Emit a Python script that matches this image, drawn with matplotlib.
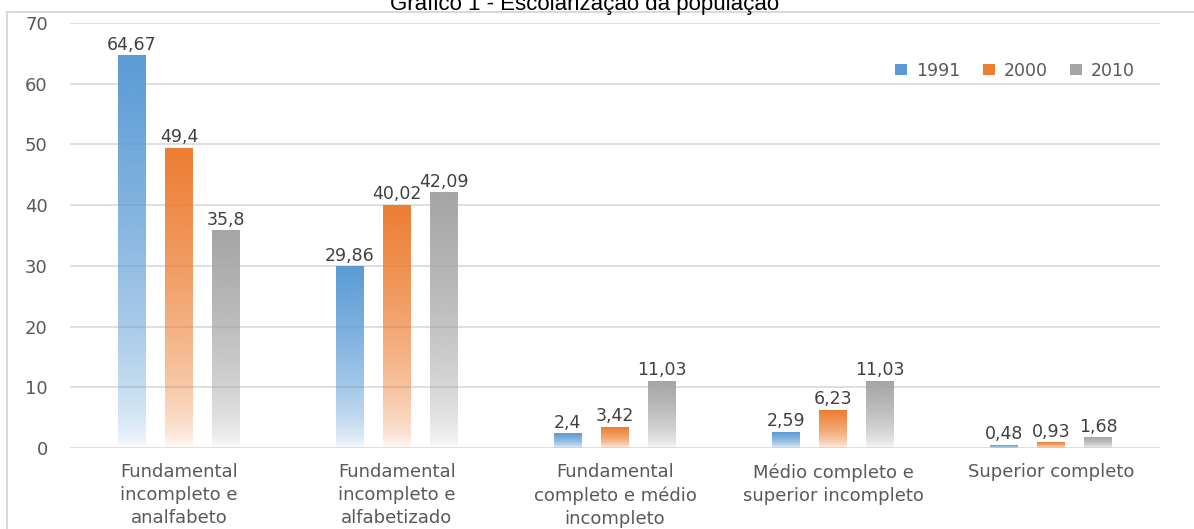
import numpy as np
import matplotlib
matplotlib.use("Agg")
import matplotlib.pyplot as plt
from matplotlib.colors import to_rgb
from matplotlib.patches import Patch
from matplotlib.lines import Line2D

categories = [
    "Fundamental\nincompleto e\nanalfabeto",
    "Fundamental\nincompleto e\nalfabetizado",
    "Fundamental\ncompleto e médio\nincompleto",
    "Médio completo e\nsuperior incompleto",
    "Superior completo",
]
years = ["1991", "2000", "2010"]
v1991 = [64.67, 29.86, 2.4, 2.59, 0.48]
v2000 = [49.4, 40.02, 3.42, 6.23, 0.93]
v2010 = [35.8, 42.09, 11.03, 11.03, 1.68]
labels1991 = ["64,67", "29,86", "2,4", "2,59", "0,48"]
labels2000 = ["49,4", "40,02", "3,42", "6,23", "0,93"]
labels2010 = ["35,8", "42,09", "11,03", "11,03", "1,68"]

colors = ["#5B9BD5", "#ED7D31", "#A5A5A5"]
series = [v1991, v2000, v2010]
texts = [labels1991, labels2000, labels2010]

W, H = 1194, 529
fig = plt.figure(figsize=(W / 100, H / 100), dpi=100)
ax = fig.add_axes([70 / W, 1 - 448 / H, (1160 - 70) / W, (448 - 23) / H])

x = np.arange(len(categories))
bw = 0.128
step = 0.216

t = np.linspace(0, 1, 256)
alpha = t ** 0.55

for i, (vals, col, labs) in enumerate(zip(series, colors, texts)):
    bars = ax.bar(x + (i - 1) * step, vals, width=bw, color="none", zorder=2)
    rgb = to_rgb(col)
    img = np.zeros((256, 1, 4))
    img[..., 0], img[..., 1], img[..., 2] = rgb
    img[:, 0, 3] = alpha
    for b, lab in zip(bars, labs):
        x0, h = b.get_x(), b.get_height()
        ax.imshow(img, extent=[x0, x0 + b.get_width(), 0, h], origin="lower",
                  aspect="auto", zorder=2, interpolation="bilinear")
        ax.text(x0 + b.get_width() / 2, h + 0.3, lab, ha="center", va="bottom",
                fontsize=12.5, color="#404040")

ax.set_xlim(-0.5, len(categories) - 0.5)
ax.set_ylim(0, 70)
ax.set_yticks(range(0, 71, 10))
ax.yaxis.grid(True, color="#D9D9D9", linewidth=1.2, zorder=0)
ax.set_axisbelow(True)
for s in ax.spines.values():
    s.set_visible(False)
ax.tick_params(length=0)
ax.tick_params(axis="y", labelsize=13, labelcolor="#595959", pad=16)
ax.set_xticks(x)
ax.set_xticklabels(categories, fontsize=13, color="#595959", linespacing=1.35)
ax.tick_params(axis="x", pad=11)

handles = [Patch(facecolor=c, edgecolor="none") for c in colors]
fig.legend(handles, years, loc="center", bbox_to_anchor=(1015 / W, 1 - 71 / H),
           ncol=3, frameon=False, fontsize=12.5, labelcolor="#595959",
           handlelength=0.7, handleheight=0.6, handletextpad=0.5, columnspacing=1.3)

fig.add_artist(Line2D([7 / W, 1], [1 - 12 / H, 1 - 12 / H], transform=fig.transFigure,
                      color="#D9D9D9", linewidth=1.5))
fig.add_artist(Line2D([7 / W, 7 / W], [0, 1 - 12 / H], transform=fig.transFigure,
                      color="#D9D9D9", linewidth=1.5))

fig.text(585 / W, 1 - 10 / H, "Gráfico 1 - Escolarização da população", ha="center",
         va="baseline", fontsize=16, family="Liberation Sans", color="black")

fig.savefig("out.png", dpi=100)
